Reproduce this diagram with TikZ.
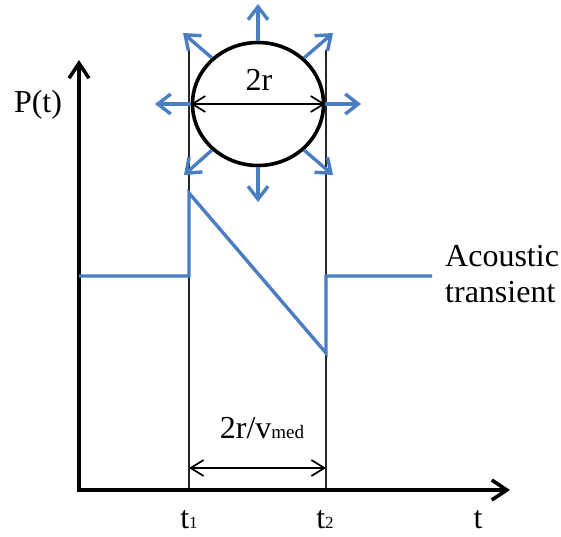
\documentclass[tikz,border=0pt]{standalone}
\usepackage{fontspec}
\setmainfont{Liberation Serif}
\usetikzlibrary{arrows.meta,shapes.geometric}
\definecolor{sigblue}{RGB}{74,126,193}
\begin{document}
\begin{tikzpicture}[x=1pt,y=-1pt,
  axis/.style={line width=3.6pt,-{Straight Barb[length=15pt,width=20pt,line width=3.6pt]}},
  guide/.style={line width=2.2pt,black!85},
  sig/.style={line width=3.4pt,sigblue,line join=miter},
  rad/.style={line width=3.4pt,sigblue,-{Straight Barb[length=13pt,width=20pt,line width=3.4pt]}},
  dim/.style={line width=1.7pt,{Straight Barb[length=13pt,width=16pt,line width=1.7pt]}-{Straight Barb[length=13pt,width=16pt,line width=1.7pt]}},
  lbl/.style={font=\fontsize{32}{37}\selectfont,inner sep=0pt}
]
\useasboundingbox (0,0) rectangle (561,536);
% coordinates
\coordinate (o) at (79,490);
\coordinate (ytip) at (79,60);
\coordinate (xtip) at (510,490);
\coordinate (v1t) at (189,50);
\coordinate (v1b) at (189,490);
\coordinate (v2t) at (326,50);
\coordinate (v2b) at (326,490);
\coordinate (s0) at (79,276);
\coordinate (s1) at (189,276);
\coordinate (s2) at (189,193);
\coordinate (s3) at (326,353);
\coordinate (s4) at (326,276);
\coordinate (s5) at (432,276);
\coordinate (d1) at (189,468);
\coordinate (d2) at (326,468);
% guide lines
\draw[guide] (v1t) -- (v1b);
\draw[guide] (v2t) -- (v2b);
% axes
\draw[axis] (o) -- (ytip);
\draw[axis] ([xshift=-1.8pt]o) -- (xtip);
% bubble
\node[draw,ellipse,line width=3.6pt,minimum width=131pt,minimum height=123pt,inner sep=0pt] (c) at (258,104) {};
\coordinate (aU) at (258,4);
\coordinate (aD) at (258,202);
\coordinate (aL) at (155,104);
\coordinate (aR) at (361,104);
\coordinate (aUL) at (183,33);
\coordinate (aUR) at (333,33);
\coordinate (aDL) at (184,175);
\coordinate (aDR) at (333,175);
\draw[rad] (c.north) -- (aU);
\draw[rad] (c.south) -- (aD);
\draw[rad] (c.west) -- (aL);
\draw[rad] (c.east) -- (aR);
\draw[rad] (c.135) -- (aUL);
\draw[rad] (c.45) -- (aUR);
\draw[rad] (c.225) -- (aDL);
\draw[rad] (c.315) -- (aDR);
\draw[dim] (c.west) -- (c.east);
\node[lbl,anchor=base] (twor) at (259,90) {2r};
% signal
\draw[sig] (s0) -- (s1) -- (s2) -- (s3) -- (s4) -- (s5);
% dimension
\draw[dim] (d1) -- (d2);
\node[lbl,anchor=base] (dur) at (262,438) {2r/v{\fontsize{19}{19}\selectfont med}};
% labels
\node[lbl,anchor=base] (py) at (38,112) {P(t)};
\node[lbl,anchor=base] (tx) at (478,528) {t};
\node[lbl,anchor=base] (t1) at (189,528) {t{\fontsize{17}{17}\selectfont 1}};
\node[lbl,anchor=base] (t2) at (325,528) {t{\fontsize{17}{17}\selectfont 2}};
\node[lbl,anchor=base west] (ac1) at (445,266) {Acoustic};
\node[lbl,anchor=base west] (ac2) at (445,302) {transient};
\end{tikzpicture}
\end{document}
